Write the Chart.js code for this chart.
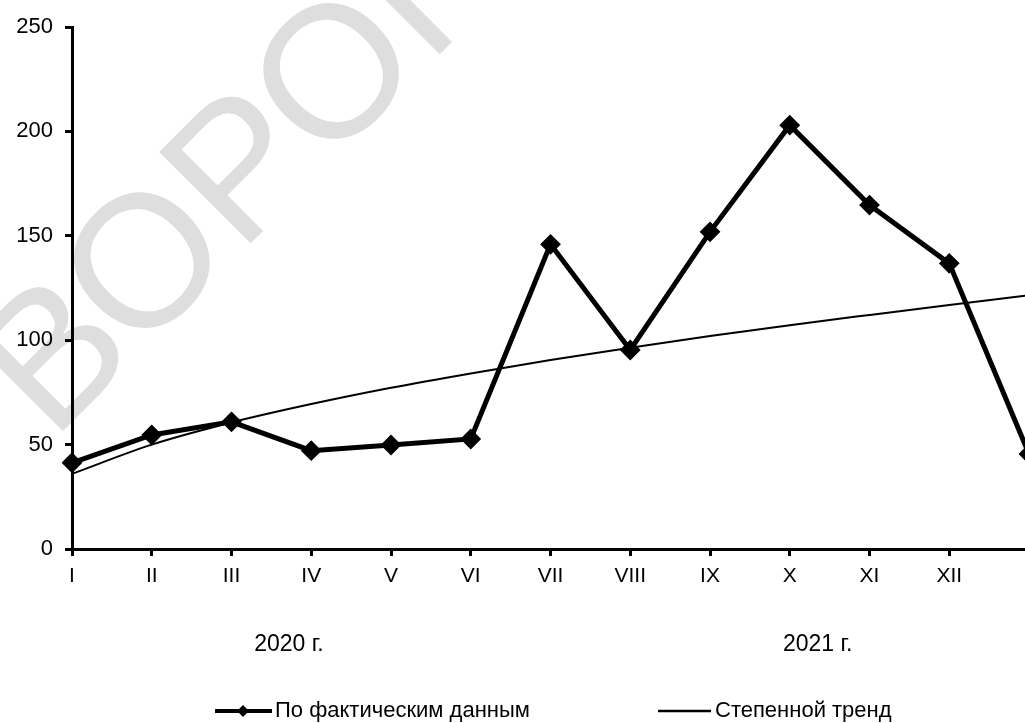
<!DOCTYPE html>
<html>
<head>
<meta charset="utf-8">
<script src="https://cdn.jsdelivr.net/npm/chart.js@4"></script>
<style>
  html, body { margin: 0; padding: 0; background: #fff; overflow: hidden; }
  #wrap { width: 1025px; height: 723px; overflow: hidden; }
</style>
</head>
<body>
<div id="wrap"><canvas id="chart" width="1040" height="723"></canvas></div>
<script>
// ── Data ─────────────────────────────────────────────────────
const months     = ['I', 'II', 'III', 'IV', 'V', 'VI', 'VII', 'VIII', 'IX', 'X', 'XI', 'XII', ''];
const actual     = [41.3, 54.6, 60.9, 47.1, 49.8, 52.7, 145.9, 95.3, 151.9, 203, 164.7, 136.8, 45.5];
const trend      = [36, 50, 60.6, 69.4, 77.2, 84.1, 90.5, 96.4, 102, 107.2, 112.1, 116.9, 121.5];
const yearLabels = ['2020 г.', '2021 г.'];
const yearAt     = [2.72, 9.35];   // position along the month axis
const seriesNames = ['По фактическим данным', 'Степенной тренд'];
const watermark  = 'ВОРОНЕЖ';

const FONT = "'Liberation Sans', Arial, sans-serif";

// ── Plugins ──────────────────────────────────────────────────
// faint diagonal watermark, painted before axes and lines
const watermarkPlugin = {
  id: 'watermark',
  beforeDraw(chart) {
    const ctx = chart.ctx;
    ctx.save();
    ctx.fillStyle = '#fff';
    ctx.fillRect(0, 0, chart.width, chart.height);
    ctx.translate(52, 442);
    ctx.rotate(-Math.PI / 4);
    ctx.font = `188px ${FONT}`;
    ctx.fillStyle = '#dedede';
    ctx.fillText(watermark, 0, 0);
    ctx.restore();
  }
};

// year captions under the months + the legend row
const extrasPlugin = {
  id: 'extras',
  afterDraw(chart) {
    const ctx = chart.ctx;
    const x = chart.scales.x;
    ctx.save();
    ctx.fillStyle = '#000';
    ctx.font = `23px ${FONT}`;
    ctx.textAlign = 'center';
    ctx.textBaseline = 'middle';
    yearLabels.forEach((t, i) => ctx.fillText(t, x.getPixelForValue(yearAt[i]), 645));

    const ly = 711;
    ctx.strokeStyle = '#000';
    ctx.lineWidth = 4;
    ctx.beginPath(); ctx.moveTo(215, ly); ctx.lineTo(272, ly); ctx.stroke();
    ctx.beginPath();
    ctx.moveTo(243 - 6, ly); ctx.lineTo(243, ly - 6); ctx.lineTo(243 + 6, ly); ctx.lineTo(243, ly + 6);
    ctx.closePath(); ctx.fill();
    ctx.lineWidth = 2.5;
    ctx.beginPath(); ctx.moveTo(658, ly); ctx.lineTo(711, ly); ctx.stroke();

    ctx.font = `22px ${FONT}`;
    ctx.textAlign = 'left';
    ctx.fillText(seriesNames[0], 275, ly);
    ctx.fillText(seriesNames[1], 715, ly);
    ctx.restore();
  }
};

// ── Chart ────────────────────────────────────────────────────
new Chart(document.getElementById('chart'), {
  type: 'line',
  data: {
    labels: months,
    datasets: [
      {
        label: seriesNames[1],
        data: trend,
        borderColor: '#000',
        borderWidth: 2,
        pointRadius: 0,
        cubicInterpolationMode: 'monotone',
        fill: false,
      },
      {
        label: seriesNames[0],
        data: actual,
        borderColor: '#000',
        backgroundColor: '#000',
        borderWidth: 5,
        pointStyle: 'rectRot',
        pointRadius: 9,
        pointBorderWidth: 2,
        tension: 0,
        fill: false,
      },
    ],
  },
  options: {
    responsive: false,
    animation: false,
    devicePixelRatio: 1,
    layout: { padding: { top: 27, right: 8, left: 0, bottom: 0 } },
    plugins: { legend: { display: false }, tooltip: { enabled: false } },
    scales: {
      x: {
        type: 'category',
        offset: false,
        grid: { drawOnChartArea: false, drawTicks: true, tickLength: 7, tickColor: '#000', tickWidth: 3 },
        border: { display: true, color: '#000', width: 3 },
        ticks: { color: '#000', font: { family: FONT, size: 21 }, padding: 8, maxRotation: 0, autoSkip: false },
        afterFit(scale) { scale.height = 174; },
      },
      y: {
        min: 0,
        max: 250,
        grid: { drawOnChartArea: false, drawTicks: true, tickLength: 7, tickColor: '#000', tickWidth: 3 },
        border: { display: true, color: '#000', width: 3 },
        ticks: { stepSize: 50, color: '#000', font: { family: FONT, size: 22 }, padding: 12 },
        afterFit(scale) { scale.width = 72; },
      },
    },
  },
  plugins: [watermarkPlugin, extrasPlugin],
});
</script>
</body>
</html>
